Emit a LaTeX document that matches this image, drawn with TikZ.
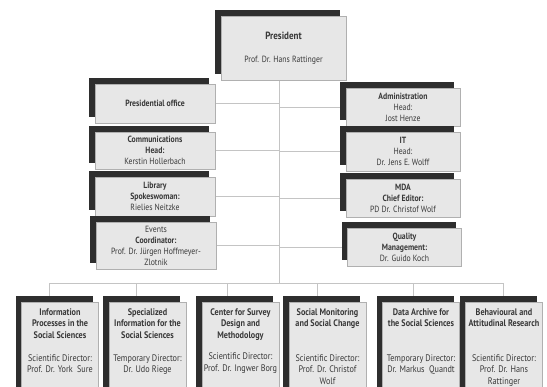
\documentclass[tikz,border=0pt]{standalone}
\usepackage{fontspec}
\setmainfont{PT Sans}[FakeStretch=0.86]
\usetikzlibrary{shadows,backgrounds}
\definecolor{boxgray}{HTML}{E7E7E7}
\definecolor{edgegray}{HTML}{B0B0B0}
\definecolor{shadegray}{HTML}{2E2E2E}
\definecolor{inkgray}{HTML}{383838}
\definecolor{linegray}{HTML}{C4C4C4}
\newcommand{\instbody}[1]{\begin{tabular}[t]{@{}c@{}}#1\end{tabular}}
\tikzstyle{unit}=[draw=edgegray, fill=boxgray, line width=0.6pt, text=inkgray, align=center, inner xsep=1pt, font=\fontsize{9}{11}\selectfont, general shadow={fill=shadegray, shadow xshift=-6pt, shadow yshift=6pt}]
\tikzstyle{staffl}=[unit, minimum width=120pt]
\tikzstyle{staffr}=[unit, minimum width=114pt]
\tikzstyle{inst}=[unit, anchor=north, minimum width=77pt, text height=8pt, text depth=76pt, inner ysep=5pt, font=\fontsize{9.5}{11.5}\selectfont]
\tikzstyle{link}=[draw=linegray, line width=0.8pt]

\begin{document}
\begin{tikzpicture}[x=1pt, y=-1pt]
    \useasboundingbox (0,0) rectangle (547,387);

    \node[unit, minimum width=125pt, minimum height=64pt] (president) at (283.5,48)
        {\fontsize{10.5}{12}\selectfont\textbf{President}\\[12pt]\fontsize{9}{11}\selectfont Prof. Dr. Hans Rattinger};

    \foreach \pos/\name/\h/\txt in {
                            {(155,103.5)/office/39/{\textbf{Presidential office}}},
                            {(155,150.5)/comm/37/{\textbf{Communications}\\\textbf{Head:}\\Kerstin Hollerbach}},
                            {(155,196.5)/library/39/{\textbf{Library}\\\textbf{Spokeswoman:}\\Rielies Neitzke}},
                            {(156,245.5)/events/47/{Events\\\textbf{Coordinator:}\\Prof. Dr. Jürgen Hoffmeyer-\\Zlotnik}}}
        \node[staffl, minimum height=\h pt] (\name) at \pos {\txt};

    \foreach \pos/\name/\h/\txt in {
                            {(403,107)/admin/38/{\textbf{Administration}\\Head:\\Jost Henze}},
                            {(403,151.5)/it/39/{\textbf{IT}\\Head:\\Dr. Jens E. Wolff}},
                            {(403,198)/mda/38/{\textbf{MDA}\\\textbf{Chief Editor:}\\PD Dr. Christof Wolf}},
                            {(404.5,247)/quality/38/{\textbf{Quality}\\\textbf{Management:}\\Dr. Guido Koch}}}
        \node[staffr, minimum height=\h pt] (\name) at \pos {\txt};

    \foreach \x/\name/\txt in {
                            {60/ipss/{\textbf{Information}\\\textbf{Processes in the}\\\textbf{Social Sciences}\\[11.5pt]Scientific Director:\\Prof. Dr. York~~Sure}},
                            {147.5/spec/{\textbf{Specialized}\\\textbf{Information for the}\\\textbf{Social Sciences}\\[11.5pt]Temporary Director:\\Dr. Udo Riege}},
                            {240.5/survey/{\textbf{Center for Survey}\\\textbf{Design and}\\\textbf{Methodology}\\[10pt]Scientific Director:\\Prof. Dr. Ingwer Borg}},
                            {327.5/monitor/{\textbf{Social Monitoring}\\\textbf{and Social Change}\\[23pt]Scientific Director:\\Prof. Dr. Christof\\Wolf}},
                            {421/archive/{\textbf{Data Archive for}\\\textbf{the Social Sciences}\\[23pt]Temporary Director:\\Dr. Markus~~Quandt}},
                            {504/behav/{\textbf{Behavioural and}\\\textbf{Attitudinal Research}\\[23pt]Scientific Director:\\Prof. Dr. Hans\\Rattinger}}}
        \node[inst] (\name) at (\x,302) {\instbody{\txt}};

    % Connect units with lines behind the boxes
    \begin{pgfonlayer}{background}
        \coordinate (hub) at (279,283);
        \draw[link] (president.south -| hub) -- (hub);
        \foreach \name in {office,comm,library,events}
            \draw[link] (\name.east) -- (\name.east -| hub);
        \foreach \name in {admin,it,mda,quality}
            \draw[link] (\name.west) -- (\name.west -| hub);
        \foreach \name/\dx in {ipss/-11,spec/-11,survey/-13,monitor/-10,archive/-8,behav/-1} {
            \coordinate (\name-in) at ([xshift=\dx pt]\name.north);
            \draw[link] (\name-in) -- (\name-in |- hub);
        }
        \draw[link] (ipss-in |- hub) -- (behav-in |- hub);
    \end{pgfonlayer}

\end{tikzpicture}
\end{document}
